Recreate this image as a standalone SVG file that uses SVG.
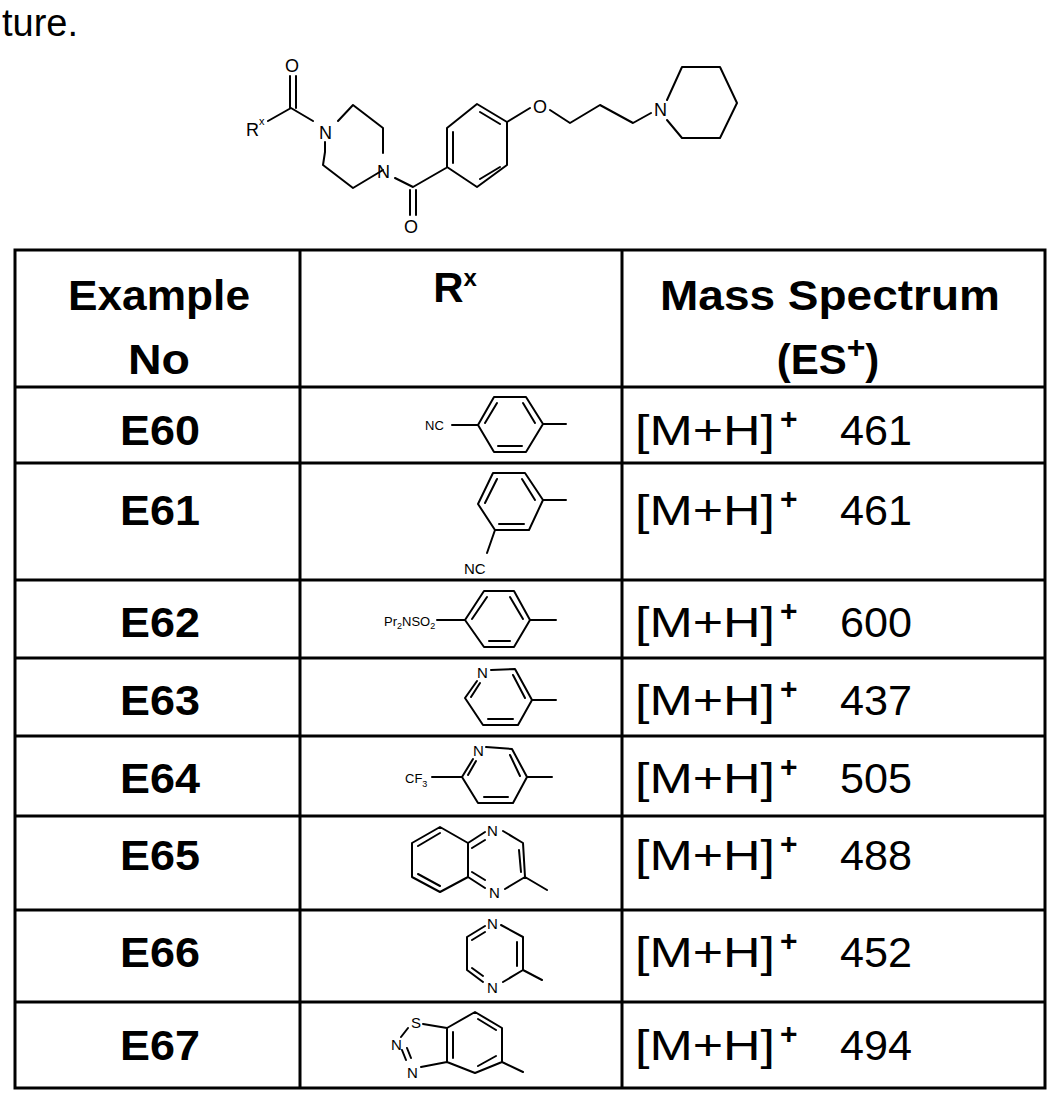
<svg xmlns="http://www.w3.org/2000/svg" width="1050" height="1108" viewBox="0 0 1050 1108">
<style>
.b{stroke:#000;stroke-width:2;fill:none;stroke-linecap:round;stroke-linejoin:round}
.g{stroke:#000;stroke-width:3;fill:none}
.t{font-family:"Liberation Sans",Arial,sans-serif;fill:#000}
.h{font-size:42px;font-weight:bold;text-anchor:middle}
.m{font-size:42px}
.s{font-size:15px}
.a{font-size:18px}
</style>
<rect width="1050" height="1108" fill="#fff"/>
<text class="t" x="2" y="36" font-size="38">ture.</text>
<g id="core">
<path class="b" d="M290,76 V108 M296,76 V108 M268,121 L291,108 L313,121 M325,142 V152 L323,165 L353,188 L383,170 M338,121 L353,105 L383,128 V153 M395,178 L413,187 L446,168 M410,190 V215 M416,190 V215 M447,167 V128 L477,104 L507,122 V165 L477,187 Z M453,163 V132 M480,112 L500,124 M480,179 L500,167 M507,122 L530,108 M550,110 L570,123 L600,105 L633,123 L651,113 M667,100 L682,67 H720 L737,103 L720,138 H682 L667,120"/>
<text class="t a" x="285" y="72">O</text>
<text class="t a" x="246" y="136">R</text><text class="t" x="259" y="125" font-size="11">x</text>
<text class="t a" x="319" y="139">N</text>
<text class="t a" x="377" y="178">N</text>
<text class="t a" x="404" y="233">O</text>
<text class="t a" x="533" y="113">O</text>
<text class="t a" x="654" y="116">N</text>
</g>
<g id="table">
<path class="g" d="M15,250 H1045 V1088 H15 Z M300,250 V1088 M622,250 V1088 M15,387 H1045 M15,463 H1045 M15,580 H1045 M15,658 H1045 M15,736 H1045 M15,816 H1045 M15,910 H1045 M15,1002 H1045"/>
<text class="t h" x="159" y="310" textLength="182" lengthAdjust="spacingAndGlyphs">Example</text>
<text class="t h" x="159" y="374" textLength="62" lengthAdjust="spacingAndGlyphs">No</text>
<text class="t h" x="455" y="302">R<tspan font-size="24" dy="-16">x</tspan></text>
<text class="t h" x="830" y="310" textLength="340" lengthAdjust="spacingAndGlyphs">Mass Spectrum</text>
<text class="t h" x="828" y="374">(ES<tspan font-size="32" dy="-16">+</tspan><tspan dy="16">)</tspan></text>
<g class="t h">
<text x="160" y="445" textLength="80" lengthAdjust="spacingAndGlyphs">E60</text><text x="160" y="525" textLength="80" lengthAdjust="spacingAndGlyphs">E61</text><text x="160" y="637" textLength="80" lengthAdjust="spacingAndGlyphs">E62</text><text x="160" y="715" textLength="80" lengthAdjust="spacingAndGlyphs">E63</text>
<text x="160" y="793" textLength="80" lengthAdjust="spacingAndGlyphs">E64</text><text x="160" y="870" textLength="80" lengthAdjust="spacingAndGlyphs">E65</text><text x="160" y="967" textLength="80" lengthAdjust="spacingAndGlyphs">E66</text><text x="160" y="1060" textLength="80" lengthAdjust="spacingAndGlyphs">E67</text>
</g>
<g class="t m">
<text x="635" y="445" textLength="140" lengthAdjust="spacingAndGlyphs">[M+H]</text><text x="780" y="429" font-size="30" font-weight="bold">+</text><text x="840" y="445" textLength="72" lengthAdjust="spacingAndGlyphs">461</text>
<text x="635" y="525" textLength="140" lengthAdjust="spacingAndGlyphs">[M+H]</text><text x="780" y="509" font-size="30" font-weight="bold">+</text><text x="840" y="525" textLength="72" lengthAdjust="spacingAndGlyphs">461</text>
<text x="635" y="637" textLength="140" lengthAdjust="spacingAndGlyphs">[M+H]</text><text x="780" y="621" font-size="30" font-weight="bold">+</text><text x="840" y="637" textLength="72" lengthAdjust="spacingAndGlyphs">600</text>
<text x="635" y="715" textLength="140" lengthAdjust="spacingAndGlyphs">[M+H]</text><text x="780" y="699" font-size="30" font-weight="bold">+</text><text x="840" y="715" textLength="72" lengthAdjust="spacingAndGlyphs">437</text>
<text x="635" y="793" textLength="140" lengthAdjust="spacingAndGlyphs">[M+H]</text><text x="780" y="777" font-size="30" font-weight="bold">+</text><text x="840" y="793" textLength="72" lengthAdjust="spacingAndGlyphs">505</text>
<text x="635" y="870" textLength="140" lengthAdjust="spacingAndGlyphs">[M+H]</text><text x="780" y="854" font-size="30" font-weight="bold">+</text><text x="840" y="870" textLength="72" lengthAdjust="spacingAndGlyphs">488</text>
<text x="635" y="967" textLength="140" lengthAdjust="spacingAndGlyphs">[M+H]</text><text x="780" y="951" font-size="30" font-weight="bold">+</text><text x="840" y="967" textLength="72" lengthAdjust="spacingAndGlyphs">452</text>
<text x="635" y="1060" textLength="140" lengthAdjust="spacingAndGlyphs">[M+H]</text><text x="780" y="1044" font-size="30" font-weight="bold">+</text><text x="840" y="1060" textLength="72" lengthAdjust="spacingAndGlyphs">494</text>
</g>
</g>
<g id="E60r">
<path class="b" d="M452,425 H478 M478,425 L494,397 H526 L543,424 L526,452 H494 Z M543,424 H566 M485,423 L497,403 M523,403 L535,423 M498,446 H522"/>
<text class="t" x="425" y="430" font-size="13">NC</text>
</g>
<g id="E61r">
<path class="b" d="M478,504 L493,473 H525 L543,500 L529,530 H495 Z M543,500 H566 M485,503 L497,479 M522,479 L535,500 M499,524 H524 M495,530 L487,553"/>
<text class="t s" x="464" y="574">NC</text>
</g>
<g id="E62r">
<path class="b" d="M437,620 H465 M465,620 L484,591 H514 L530,620 L514,647 H484 Z M530,620 H556 M472,619 L487,597 M510,597 L523,619 M489,641 H510"/>
<text class="t" x="384" y="626" font-size="13">Pr<tspan font-size="9" dy="3">2</tspan><tspan dy="-3">NSO</tspan><tspan font-size="9" dy="3">2</tspan></text>
</g>
<g id="E63r">
<path class="b" d="M491,670 L515,669 L532,700 L518,725 H483 L465,698 L477,681 M532,700 H556 M471,697 L480,683 M513,675 L525,698 M488,719 H513"/>
<text class="t s" x="477" y="678">N</text>
</g>
<g id="E64r">
<path class="b" d="M432,777 H462 L473,759 M486,747 L512,749 L527,777 L513,803 H478 L462,777 M527,777 H552 M468,775 L476,761 M510,755 L520,776 M484,797 H508"/>
<text class="t s" x="473" y="756">N</text>
<text class="t" x="405" y="783" font-size="13">CF<tspan font-size="9" dy="4">3</tspan></text>
</g>
<g id="E65r">
<path class="b" d="M440,827 L468,843 V877 L440,892 L412,877 V843 Z M418,846 L440,833 M418,874 L440,886 M468,843 L485,832 M468,877 L485,888 M472,848 L485,840 M472,872 L485,880 M503,831 L523,843 L525,877 L505,889 M525,877 L547,890 M519,850 L521,872"/>
<text class="t s" x="487" y="836">N</text>
<text class="t s" x="489" y="898">N</text>
</g>
<g id="E66r">
<path class="b" d="M501,925 L523,937 V970 L503,982 M483,982 L467,970 V937 L485,926 M523,970 L542,980 M517,942 V966 M472,940 L485,932 M472,968 L483,976"/>
<text class="t s" x="487" y="929">N</text>
<text class="t s" x="487" y="993">N</text>
</g>
<g id="E67r">
<path class="b" d="M475,1012 L502,1028 V1062 L475,1073 L447,1062 V1028 Z M453,1032 V1058 M478,1019 L496,1030 M478,1066 L496,1056 M502,1062 L523,1072 M423,1024 L447,1028 M421,1067 L447,1062 M402,1050 L406,1060 M407,1048 L411,1058 M401,1037 L408,1028"/>
<text class="t s" x="411" y="1028">S</text>
<text class="t s" x="391" y="1050">N</text>
<text class="t s" x="407" y="1078">N</text>
</g>
</svg>
